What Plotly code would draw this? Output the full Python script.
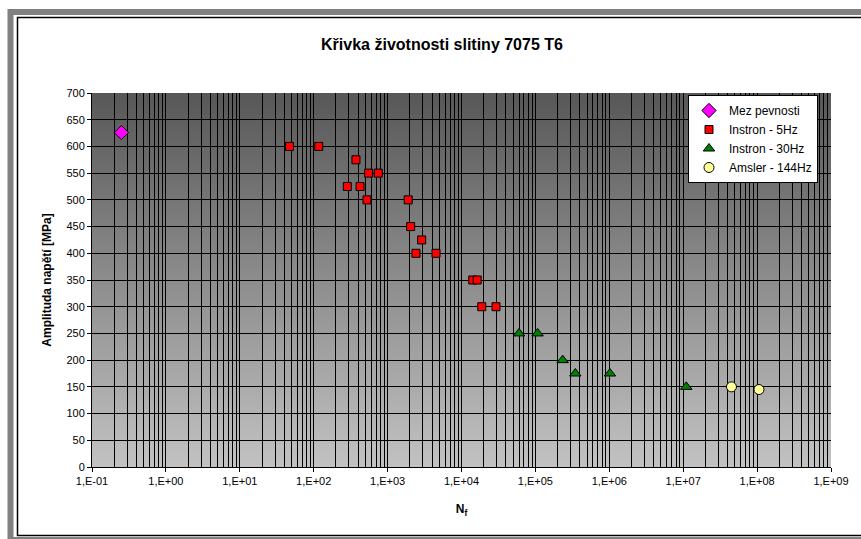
import base64
import struct
import zlib

import plotly.graph_objects as go

# ---- data -------------------------------------------------------------
mez_n = [0.25]
mez_s = [626]

instron5_n = [47, 117, 373, 555, 748, 285, 424, 526, 1900, 2050, 2890, 2420,
              4520, 14200, 16300, 18800, 29300]
instron5_s = [600, 600, 575, 550, 550, 525, 525, 500, 500, 450, 425, 400,
              400, 350, 350, 300, 300]

instron30_n = [60000, 107000, 234000, 347000, 1.02e6, 1.10e7]
instron30_s = [250, 250, 200, 175, 175, 150]

amsler_n = [4.5e7, 1.06e8]
amsler_s = [150, 145]

x_tick_vals = [1e-1, 1e0, 1e1, 1e2, 1e3, 1e4, 1e5, 1e6, 1e7, 1e8, 1e9]
x_tick_text = ["1,E-01", "1,E+00", "1,E+01", "1,E+02", "1,E+03", "1,E+04",
               "1,E+05", "1,E+06", "1,E+07", "1,E+08", "1,E+09"]

# ---- layout geometry (pixels) -----------------------------------------
W, H = 861, 539
ML, MR, MT, MB = 92, 30, 93, 72
PW, PH = W - ML - MR, H - MT - MB

FONT = "Arial, 'Liberation Sans', sans-serif"


def px_x(px):
    return (px - ML) / PW


def px_y(py):
    return (H - MB - py) / PH


def gradient_png(top, bottom, n=256):
    """Vertical grey gradient as a 1 x n PNG data URI."""
    rows = b""
    for i in range(n):
        t = i / (n - 1)
        v = int(round(top + (bottom - top) * t))
        rows += b"\x00" + bytes([v, v, v])

    def chunk(tag, data):
        c = struct.pack(">I", len(data)) + tag + data
        return c + struct.pack(">I", zlib.crc32(tag + data) & 0xFFFFFFFF)

    png = b"\x89PNG\r\n\x1a\n"
    png += chunk(b"IHDR", struct.pack(">IIBBBBB", 1, n, 8, 2, 0, 0, 0))
    png += chunk(b"IDAT", zlib.compress(rows))
    png += chunk(b"IEND", b"")
    return "data:image/png;base64," + base64.b64encode(png).decode()


fig = go.Figure()

fig.add_trace(go.Scatter(
    x=mez_n, y=mez_s, mode="markers", name="Mez pevnosti",
    marker=dict(symbol="diamond", size=11, color="#ff00ff",
                line=dict(color="black", width=1)),
))
fig.add_trace(go.Scatter(
    x=instron5_n, y=instron5_s, mode="markers", name="Instron - 5Hz",
    marker=dict(symbol="square", size=8, color="#ff0000",
                line=dict(color="black", width=1)),
))
fig.add_trace(go.Scatter(
    x=instron30_n, y=instron30_s, mode="markers", name="Instron - 30Hz",
    marker=dict(symbol="triangle-up", size=10, color="#008000",
                line=dict(color="black", width=1)),
))
fig.add_trace(go.Scatter(
    x=amsler_n, y=amsler_s, mode="markers", name="Amsler - 144Hz",
    marker=dict(symbol="circle", size=10, color="#ffff99",
                line=dict(color="black", width=1)),
))

fig.update_layout(
    width=W, height=H,
    margin=dict(l=ML, r=MR, t=MT, b=MB),
    paper_bgcolor="white",
    plot_bgcolor="rgba(0,0,0,0)",
    font=dict(family=FONT, size=11, color="black"),
    title=dict(text="Křivka životnosti slitiny 7075 T6",
               font=dict(family=FONT, size=16, color="black", weight="bold"),
               x=442 / W, xref="container", xanchor="center",
               y=1 - 44 / H, yref="container", yanchor="middle"),
    showlegend=True,
    legend=dict(x=px_x(688), y=px_y(95), xanchor="left", yanchor="top",
                bgcolor="white", bordercolor="black", borderwidth=1,
                font=dict(family=FONT, size=12, color="black"),
                itemsizing="trace", tracegroupgap=0),
    images=[dict(source=gradient_png(0x58, 0xC2), xref="paper", yref="paper",
                 x=0, y=1, sizex=1, sizey=1, sizing="stretch",
                 xanchor="left", yanchor="top", layer="below")],
    shapes=[
        dict(type="rect", xref="paper", yref="paper",
             x0=px_x(10.5), x1=px_x(1000), y0=px_y(540), y1=px_y(12),
             line=dict(color="#808080", width=6), fillcolor="rgba(0,0,0,0)"),
        dict(type="rect", xref="paper", yref="paper",
             x0=px_x(17.5), x1=px_x(1000), y0=px_y(535.5), y1=px_y(17.5),
             line=dict(color="black", width=1.5), fillcolor="rgba(0,0,0,0)"),
    ],
)

fig.update_xaxes(
    type="log", range=[-1, 9],
    tickmode="array", tickvals=x_tick_vals, ticktext=x_tick_text,
    ticks="outside", ticklen=4, tickcolor="black",
    showgrid=True, gridcolor="black", gridwidth=1,
    minor=dict(dtick="D1", showgrid=True, gridcolor="black", gridwidth=1,
               ticks=""),
    showline=True, linecolor="black", linewidth=1,
    zeroline=False,
    tickfont=dict(family=FONT, size=11, color="black"),
    title=dict(text="N<sub>f</sub>",
               font=dict(family=FONT, size=12, color="black", weight="bold"),
               standoff=18),
)
fig.update_yaxes(
    range=[0, 700], dtick=50, tick0=0,
    ticks="outside", ticklen=4, tickcolor="black",
    showgrid=True, gridcolor="black", gridwidth=1,
    showline=True, linecolor="black", linewidth=1,
    zeroline=False,
    tickfont=dict(family=FONT, size=11, color="black"),
    title=dict(text="Amplituda napětí [MPa]",
               font=dict(family=FONT, size=12, color="black", weight="bold"),
               standoff=12),
)

fig.write_html("out.html")
